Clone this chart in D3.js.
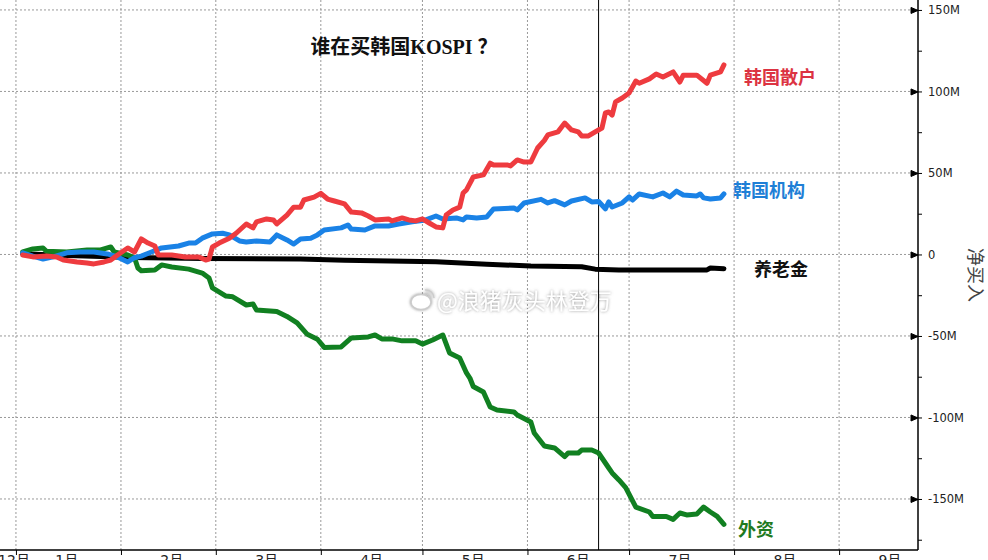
<!DOCTYPE html>
<html>
<head>
<meta charset="utf-8">
<style>
  body { margin: 0; background: #fff; }
  svg { display: block; }
  .grid line { stroke: #999; stroke-dasharray: 2,2; stroke-width: 1; }
  .axis path, .axis line { stroke: #000; }
  .axis text { font-family: "DejaVu Sans", sans-serif; font-size: 11.5px; fill: #222; }
  .series { fill: none; stroke-width: 5; stroke-linejoin: round; stroke-linecap: round; }
  .lbl { font-family: "Noto Sans CJK SC", sans-serif; font-size: 18px; font-weight: bold; }
</style>
<script src="https://d3js.org/d3.v7.min.js"></script>
</head>
<body>
<svg width="988" height="560"></svg>
<script>
  const YEAR = 2025;

  // 净买入 (M)
  const pension = [
    ["01-03", 0.5], ["01-14", -0.5], ["01-26", -1.2], ["02-04", -1.8], ["02-25", -2.5],
    ["03-26", -2.8], ["04-08", -3.5], ["05-05", -4.4], ["05-20", -6], ["06-02", -7.1],
    ["06-17", -7.5], ["06-21", -9], ["06-28", -9.5], ["07-24", -9.5], ["07-25", -8.3], ["07-29", -8.7]
  ];
  const foreign = [
    ["01-03", 1.5], ["01-06", 3.4], ["01-09", 4], ["01-10", 2], ["01-16", 1.5], ["01-22", 2.8],
    ["01-26", 2.8], ["01-29", 4.6], ["01-30", 1.5], ["02-03", -0.3], ["02-05", -2], ["02-06", -8.3],
    ["02-07", -10], ["02-11", -9.5], ["02-13", -6.4], ["02-16", -7.7], ["02-21", -9], ["02-25", -11.4],
    ["02-27", -14.4], ["02-28", -20.5], ["03-04", -25.5], ["03-06", -26], ["03-10", -31], ["03-12", -30.4],
    ["03-13", -34], ["03-19", -35], ["03-22", -38], ["03-25", -42], ["03-28", -49], ["03-31", -52],
    ["04-02", -57], ["04-07", -56.7], ["04-10", -51.2], ["04-15", -50.6], ["04-17", -49.4], ["04-19", -51.8],
    ["04-22", -51.8], ["04-25", -53], ["04-29", -53], ["05-01", -55], ["05-04", -52.5], ["05-07", -49.4],
    ["05-09", -60.4], ["05-12", -63.5], ["05-14", -72.7], ["05-15", -75.8], ["05-16", -81], ["05-19", -84.4],
    ["05-21", -93.6], ["05-23", -95.4], ["05-28", -96.6], ["05-29", -98.5], ["06-02", -102.8], ["06-03", -109.5],
    ["06-06", -117.5], ["06-09", -118.7], ["06-12", -124], ["06-13", -121.8], ["06-16", -121.8], ["06-17", -120],
    ["06-20", -120], ["06-22", -121.8], ["06-25", -131], ["06-26", -134], ["06-28", -138.3], ["06-30", -143],
    ["07-03", -155], ["07-07", -158], ["07-08", -160.7], ["07-12", -160.7], ["07-14", -162.5], ["07-16", -158.6],
    ["07-18", -159.8], ["07-21", -159.2], ["07-23", -155], ["07-25", -158], ["07-27", -160.7], ["07-29", -165.6]
  ];
  const institution = [
    ["01-03", 1], ["01-06", -1], ["01-09", -2.8], ["01-12", -1.5], ["01-16", 1], ["01-20", 1.5],
    ["01-24", 1.5], ["01-28", 0.3], ["01-31", -1.5], ["02-03", -4.6], ["02-05", -2], ["02-07", -1],
    ["02-10", 1.5], ["02-13", 4], ["02-18", 5.2], ["02-21", 7], ["02-23", 7], ["02-25", 10],
    ["02-28", 12.6], ["03-03", 13], ["03-05", 12], ["03-08", 8.3], ["03-10", 7.7], ["03-13", 8.3],
    ["03-17", 7.7], ["03-19", 12], ["03-22", 8.9], ["03-24", 6.4], ["03-26", 9.5], ["03-29", 10],
    ["03-31", 12], ["04-02", 15], ["04-07", 16.3], ["04-09", 18.1], ["04-10", 15.6], ["04-14", 15],
    ["04-17", 17.5], ["04-21", 17.5], ["04-24", 18.7], ["04-28", 20], ["05-02", 21.2], ["05-05", 23.6],
    ["05-07", 21.8], ["05-11", 22.4], ["05-13", 21.2], ["05-14", 23], ["05-17", 22.4], ["05-20", 23],
    ["05-22", 27.9], ["05-28", 28.5], ["05-29", 27.3], ["05-31", 31.6], ["06-05", 33.8], ["06-07", 31.6],
    ["06-09", 33], ["06-12", 30.4], ["06-14", 32.8], ["06-18", 34.7], ["06-20", 32.2], ["06-22", 32.5],
    ["06-24", 28], ["06-25", 32.2], ["06-26", 29.1], ["06-29", 31.6], ["07-01", 35.3], ["07-02", 33.4],
    ["07-04", 37.1], ["07-08", 35.3], ["07-11", 37.7], ["07-13", 35.3], ["07-15", 38.9], ["07-17", 36.5],
    ["07-21", 35.9], ["07-22", 37.1], ["07-23", 34.7], ["07-25", 34], ["07-28", 34.7], ["07-29", 37.1]
  ];
  const retail = [
    ["01-03", -0.3], ["01-06", -1.5], ["01-10", -1], ["01-13", -1.5], ["01-15", -3.4], ["01-19", -4.6],
    ["01-22", -5.2], ["01-24", -5.8], ["01-27", -4.6], ["01-29", -3.4], ["01-31", -0.3], ["02-03", 4],
    ["02-05", 1.5], ["02-07", 9.5], ["02-09", 7], ["02-11", 5.2], ["02-12", -0.3], ["02-16", -0.3],
    ["02-20", -1.5], ["02-24", -1.5], ["02-26", -3.4], ["02-27", -2.8], ["02-28", 4.6], ["03-02", 7],
    ["03-05", 10], ["03-07", 13], ["03-10", 18.7], ["03-12", 16.3], ["03-13", 20], ["03-16", 21.8],
    ["03-18", 21.2], ["03-19", 18.7], ["03-22", 24.2], ["03-24", 29], ["03-26", 29], ["03-27", 33.4],
    ["03-30", 35.2], ["04-01", 37.5], ["04-03", 34], ["04-05", 32.8], ["04-08", 31], ["04-10", 26],
    ["04-13", 25.5], ["04-15", 23.6], ["04-17", 21.2], ["04-21", 21.8], ["04-22", 20.6], ["04-25", 22.4],
    ["04-27", 21.2], ["04-29", 20.6], ["05-01", 21.8], ["05-03", 19.3], ["05-05", 16.9], ["05-07", 16.3],
    ["05-08", 24.2], ["05-10", 27.3], ["05-12", 29], ["05-13", 37.7], ["05-14", 39.6], ["05-16", 47.5],
    ["05-19", 48.8], ["05-21", 56], ["05-22", 54.9], ["05-26", 54.9], ["05-27", 54.3], ["05-29", 58],
    ["05-31", 56.7], ["06-02", 56.7], ["06-04", 65.3], ["06-06", 70], ["06-07", 73.3], ["06-10", 75.2],
    ["06-12", 80.6], ["06-14", 76.4], ["06-16", 75.2], ["06-17", 72.7], ["06-19", 72.7], ["06-21", 75.2],
    ["06-23", 77.6], ["06-24", 86.8], ["06-25", 87.4], ["06-26", 85.5], ["06-27", 93.6], ["06-29", 96],
    ["07-01", 99], ["07-03", 106.4], ["07-04", 105], ["07-07", 107.7], ["07-09", 110.7], ["07-11", 108.9],
    ["07-14", 112], ["07-16", 105.8], ["07-17", 110], ["07-21", 110], ["07-24", 105], ["07-25", 110],
    ["07-28", 112], ["07-29", 116.3]
  ];

  const seriesNames = ["养老金", "外资", "韩国机构", "韩国散户"];
  const seriesData = [pension, foreign, institution, retail];
  const lineColors = ["#000000", "#118021", "#1a82e6", "#ee3b3f"];
  const textColors = ["#111111", "#1f7a1f", "#1f7fd6", "#dc3342"];
  // label offset from the last point: [dx, dy]
  const labelOffsets = [[30, 7], [14, 12], [9, 3], [20, 19]];

  const monthLabels = ["12月", "1月", "2月", "3月", "4月", "5月", "6月", "7月", "8月", "9月"];
  const yTicks = [-150, -100, -50, 0, 50, 100, 150];
  const yMinor = d3.range(-175, 151, 25);
  const markerDate = "06-22";
  const title = "谁在买韩国KOSPI ？";
  const yTitle = "净买入";
  const watermark = "@浪猪灰头林登万";

  const W = 918, H = 550;
  const parse = d3.timeParse("%Y-%m-%d");
  const toDate = s => parse(YEAR + "-" + s);

  const x = d3.scaleTime()
    .domain([new Date(YEAR - 1, 11, 27, 7), new Date(YEAR, 8, 24, 7)])
    .range([0, W]);
  const y = d3.scaleLinear().domain([-181.3, 156.1]).range([H, 0]);

  const svg = d3.select('svg');

  // month boundaries Jan 1 .. Sep 1
  const monthStarts = d3.range(0, 9).map(m => new Date(YEAR, m, 1));

  const grid = svg.append('g').classed('grid', true);
  grid.selectAll('.vg').data(monthStarts).enter().append('line')
    .attr('x1', d => x(d)).attr('x2', d => x(d)).attr('y1', 0).attr('y2', H);
  grid.selectAll('.hg').data(yTicks).enter().append('line')
    .attr('x1', 0).attr('x2', W).attr('y1', d => y(d)).attr('y2', d => y(d));

  // x axis
  svg.append('g').classed('axis', true)
    .attr('transform', `translate(0,${H})`)
    .call(d3.axisBottom(x).tickValues(monthStarts).tickSize(5).tickFormat(''))
    .call(g => g.select('.domain').attr('d', `M0,0H${W}`).attr('stroke-width', 1.5));

  const monthMids = d3.range(-1, 9).map(m => new Date(YEAR, m, 16));
  svg.append('g').selectAll('text').data(monthMids).enter().append('text')
    .attr('x', d => Math.max(x(d), 14))
    .attr('y', 565)
    .attr('text-anchor', 'middle')
    .style('font-family', '"DejaVu Sans", "Noto Sans CJK SC", sans-serif')
    .style('font-size', '14px')
    .style('fill', '#222')
    .text((d, i) => monthLabels[i]);

  // right axis
  svg.append('g').classed('axis', true)
    .attr('transform', `translate(${W},0)`)
    .call(d3.axisRight(y).tickValues(yMinor).tickSize(4).tickFormat(''))
    .call(g => g.select('.domain').remove());
  const yAxis = svg.append('g').classed('axis', true)
    .attr('transform', `translate(${W},0)`)
    .call(d3.axisRight(y).tickValues(yTicks).tickSize(0).tickPadding(10)
      .tickFormat(d => d === 0 ? '0' : d + 'M'))
    .call(g => g.select('.domain').attr('d', `M0,0V${H}`).attr('stroke-width', 1.5));
  yAxis.selectAll('.tick').append('path')
    .attr('d', 'M-7,-3L0,0L-7,3Z').attr('fill', '#000');

  svg.append('text')
    .attr('transform', `translate(977,275) rotate(90)`)
    .attr('text-anchor', 'middle')
    .attr('dominant-baseline', 'central')
    .style('font-family', '"Noto Sans CJK SC", sans-serif')
    .style('font-size', '18px')
    .style('fill', '#444')
    .text(yTitle);

  // watermark
  const defs = svg.append('defs');
  const f = defs.append('filter').attr('id', 'glow').attr('x', '-10%').attr('y', '-30%').attr('width', '120%').attr('height', '160%');
  f.append('feDropShadow').attr('dx', 0).attr('dy', 0).attr('stdDeviation', 1.6).attr('flood-color', '#888').attr('flood-opacity', 0.9);
  const wm = svg.append('g').attr('filter', 'url(#glow)');
  wm.append('ellipse').attr('cx', 421).attr('cy', 302).attr('rx', 10).attr('ry', 7.5)
    .attr('fill', '#fff').attr('stroke', '#ccc').attr('stroke-width', 1.5);
  wm.append('path').attr('d', 'M425,290 a8,8 0 0 1 9,8 M425,294 a4,4 0 0 1 5,4')
    .attr('fill', 'none').attr('stroke', '#ccc').attr('stroke-width', 1.5);
  wm.append('text')
    .attr('x', 437).attr('y', 309)
    .style('font-family', '"Noto Sans CJK SC", sans-serif')
    .style('font-size', '22px')
    .style('fill', '#fff')
    .text(watermark);

  // marker line
  svg.append('line')
    .attr('x1', x(toDate(markerDate))).attr('x2', x(toDate(markerDate)))
    .attr('y1', 0).attr('y2', H)
    .attr('stroke', '#000').attr('stroke-width', 1);

  // series
  const line = d3.line().x(d => x(toDate(d[0]))).y(d => y(d[1]));
  svg.append('g').selectAll('path').data(seriesData).enter().append('path')
    .classed('series', true)
    .attr('stroke', (d, i) => lineColors[i])
    .attr('d', line);

  svg.append('g').selectAll('text').data(seriesData).enter().append('text')
    .classed('lbl', true)
    .attr('x', (d, i) => x(toDate(d[d.length - 1][0])) + labelOffsets[i][0])
    .attr('y', (d, i) => y(d[d.length - 1][1]) + labelOffsets[i][1])
    .style('fill', (d, i) => textColors[i])
    .text((d, i) => seriesNames[i]);

  svg.append('text')
    .attr('x', 404).attr('y', 54)
    .attr('text-anchor', 'middle')
    .style('font-family', '"Liberation Serif", "Noto Sans CJK SC", serif')
    .style('font-size', '20px')
    .style('font-weight', 'bold')
    .style('fill', '#111')
    .text(title);
</script>
</body>
</html>
